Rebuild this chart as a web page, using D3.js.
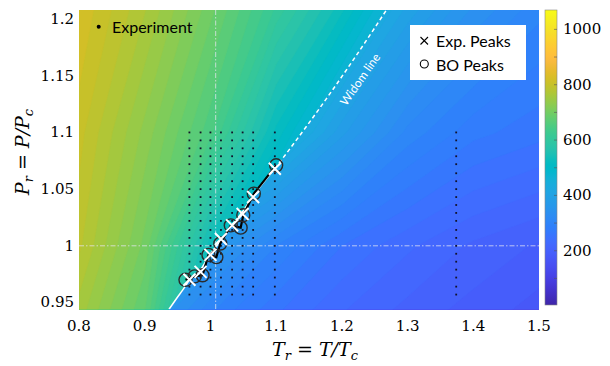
<!DOCTYPE html>
<html>
<head>
<meta charset="utf-8">
<script src="https://cdn.jsdelivr.net/npm/d3@7"></script>
<style>
  body { margin: 0; background: #fff; }
  svg { display: block; }
</style>
</head>
<body>
<div id="chart"></div>
<script>
// axis ticks
const xTicks = [0.8, 0.9, 1, 1.1, 1.2, 1.3, 1.4, 1.5];
const yTicks = [0.95, 1, 1.05, 1.1, 1.15, 1.2];
const cbTicks = [200, 400, 600, 800, 1000];

// background field (rows = Pr, cols = Tr)
const fieldP = [0.93, 1.0, 1.1, 1.22];
const liquidT = [0.78, 0.9, 1.0, 1.1, 1.2, 1.3];
const liquidVals = [
  [770, 670, 430, 380, 350, 330],
  [800, 700, 530, 430, 380, 350],
  [815, 730, 650, 520, 420, 380],
  [835, 770, 700, 620, 540, 440]
];
const vapourT = [0.9, 1.0, 1.1, 1.2, 1.3, 1.4, 1.52];
const vapourVals = [
  [360, 290, 250, 220, 200, 185, 165],
  [430, 370, 300, 255, 228, 207, 190],
  [560, 520, 470, 380, 310, 275, 258],
  [650, 620, 580, 500, 410, 350, 305]
];

// Widom line (solid part, then dashed part)
const widomSolidT = [0.937, 0.949, 0.959, 0.968, 0.985, 1.0, 1.016, 1.032, 1.049, 1.065, 1.098];
const widomSolidP = [0.944, 0.954, 0.962, 0.970, 0.979, 0.993, 1.005, 1.018, 1.030, 1.044, 1.068];
const widomDashT = [1.098, 1.147, 1.208, 1.269];
const widomDashP = [1.068, 1.106, 1.156, 1.209];

// experiment grid
const expT = [0.968, 0.985, 1.0, 1.016, 1.033, 1.049, 1.065, 1.098, 1.374];
const expP = [0.957, 0.964, 0.972, 0.979, 0.986, 0.993, 1.000, 1.007, 1.014, 1.022, 1.029,
              1.036, 1.043, 1.050, 1.057, 1.064, 1.072, 1.079, 1.086, 1.093, 1.100];

// peaks
const expPeakT = [0.968, 0.985, 1.0, 1.016, 1.033, 1.049, 1.065, 1.098];
const expPeakP = [0.970, 0.977, 0.992, 1.006, 1.018, 1.028, 1.043, 1.068];
const boPeakT = [0.962, 0.976, 0.988, 0.997, 1.009, 1.015, 1.031, 1.046, 1.050, 1.066, 1.100];
const boPeakP = [0.970, 0.973, 0.974, 0.992, 0.990, 1.002, 1.018, 1.016, 1.027, 1.046, 1.071];

// MATLAB parula
const parula = [
  [0.2422,0.1504,0.6603],[0.2504,0.1650,0.7076],[0.2578,0.1818,0.7511],[0.2647,0.1978,0.7952],
  [0.2706,0.2147,0.8364],[0.2751,0.2342,0.8710],[0.2783,0.2559,0.8991],[0.2803,0.2782,0.9221],
  [0.2813,0.3006,0.9414],[0.2810,0.3228,0.9579],[0.2795,0.3447,0.9717],[0.2760,0.3667,0.9829],
  [0.2699,0.3892,0.9906],[0.2602,0.4123,0.9952],[0.2440,0.4358,0.9988],[0.2206,0.4603,0.9973],
  [0.1963,0.4847,0.9892],[0.1834,0.5074,0.9798],[0.1786,0.5289,0.9682],[0.1764,0.5499,0.9520],
  [0.1687,0.5703,0.9359],[0.1540,0.5902,0.9218],[0.1460,0.6091,0.9079],[0.1380,0.6276,0.8973],
  [0.1248,0.6459,0.8883],[0.1113,0.6635,0.8763],[0.0952,0.6798,0.8598],[0.0689,0.6948,0.8394],
  [0.0297,0.7082,0.8163],[0.0036,0.7203,0.7917],[0.0067,0.7312,0.7660],[0.0433,0.7411,0.7394],
  [0.0964,0.7500,0.7120],[0.1408,0.7584,0.6842],[0.1717,0.7670,0.6554],[0.1938,0.7758,0.6251],
  [0.2161,0.7843,0.5923],[0.2470,0.7918,0.5567],[0.2906,0.7973,0.5188],[0.3406,0.8008,0.4789],
  [0.3909,0.8029,0.4354],[0.4456,0.8024,0.3909],[0.5044,0.7993,0.3480],[0.5616,0.7942,0.3045],
  [0.6174,0.7876,0.2612],[0.6720,0.7793,0.2227],[0.7242,0.7698,0.1910],[0.7738,0.7598,0.1646],
  [0.8203,0.7498,0.1535],[0.8634,0.7406,0.1596],[0.9035,0.7330,0.1774],[0.9393,0.7288,0.2100],
  [0.9728,0.7298,0.2394],[0.9956,0.7434,0.2371],[0.9970,0.7659,0.2199],[0.9952,0.7893,0.2028],
  [0.9892,0.8136,0.1885],[0.9786,0.8386,0.1766],[0.9676,0.8639,0.1643],[0.9610,0.8890,0.1537],
  [0.9597,0.9135,0.1423],[0.9628,0.9373,0.1265],[0.9691,0.9606,0.1064],[0.9769,0.9839,0.0805]
].map(c => d3.rgb(c[0] * 255, c[1] * 255, c[2] * 255).formatHex());

const width = 610, height = 366;
const plot = { left: 79, right: 539, top: 10, bottom: 309.3 };

const x = d3.scaleLinear().domain([0.8, 1.5]).range([plot.left, plot.right]);
const y = d3.scaleLinear().domain([0.944, 1.208]).range([plot.bottom, plot.top]);
const color = d3.scaleSequential(d3.piecewise(d3.interpolateRgb, parula)).domain([4, 1070]);
const cbY = d3.scaleLinear().domain([4, 1070]).range([305, 10]);

const svg = d3.select("#chart").append("svg")
  .attr("width", width)
  .attr("height", height);

const defs = svg.append("defs");
defs.append("clipPath").attr("id", "plotClip")
  .append("rect")
  .attr("x", plot.left).attr("y", plot.top)
  .attr("width", plot.right - plot.left).attr("height", plot.bottom - plot.top);

// liquid side of the Widom line
const liquidPoly = widomSolidT.map((t, i) => [t, widomSolidP[i]])
  .concat(widomDashT.slice(1).map((t, i) => [t, widomDashP[i + 1]]));
const clipPts = [[0.93, 0.93]].concat(liquidPoly, [[1.28, 1.22], [0.7, 1.25], [0.7, 0.9], [0.93, 0.9]]);
defs.append("clipPath").attr("id", "liquidClip")
  .append("path")
  .attr("d", d3.line().x(d => x(d[0])).y(d => y(d[1]))(clipPts) + "Z");

const levels = d3.range(0, 1095, 15);

function drawField(g, tVals, vals) {
  const ti = d3.scaleLinear().domain(d3.range(tVals.length)).range(tVals);
  const pi = d3.scaleLinear().domain(d3.range(fieldP.length)).range(fieldP);
  const path = d3.geoPath(d3.geoTransform({
    point(cx, cy) { this.stream.point(x(ti(cx - 0.5)), y(pi(cy - 0.5))); }
  }));
  const bands = d3.contours()
    .size([tVals.length, fieldP.length])
    .thresholds(levels)(vals.flat());
  g.selectAll("path")
    .data(bands)
    .join("path")
    .attr("d", path)
    .attr("fill", d => color(d.value + 7.5))
    .attr("stroke", d => color(d.value + 7.5))
    .attr("stroke-width", 0.4);
}

const field = svg.append("g").attr("clip-path", "url(#plotClip)");
drawField(field.append("g"), vapourT, vapourVals);
drawField(field.append("g").attr("clip-path", "url(#liquidClip)"), liquidT, liquidVals);

// critical point guides
field.append("line")
  .attr("x1", x(1.008)).attr("x2", x(1.008))
  .attr("y1", plot.top).attr("y2", plot.bottom)
  .attr("stroke", "#e6e6f2").attr("stroke-opacity", 0.75).attr("stroke-width", 1)
  .attr("stroke-dasharray", "5,2,1.5,2");
field.append("line")
  .attr("x1", plot.left).attr("x2", plot.right)
  .attr("y1", y(1.0)).attr("y2", y(1.0))
  .attr("stroke", "#e6e6f2").attr("stroke-opacity", 0.75).attr("stroke-width", 1)
  .attr("stroke-dasharray", "5,2,1.5,2");

// experiment points
field.append("g").selectAll("rect")
  .data(d3.cross(expT, expP))
  .join("rect")
  .attr("x", d => x(d[0]) - 0.9)
  .attr("y", d => y(d[1]) - 0.9)
  .attr("width", 1.8).attr("height", 1.8)
  .attr("fill", "#12122a");

// Widom line
const wLine = d3.line().curve(d3.curveMonotoneX).x(d => x(d[0])).y(d => y(d[1]));
field.append("path")
  .attr("d", wLine(widomSolidT.map((t, i) => [t, widomSolidP[i]])))
  .attr("fill", "none").attr("stroke", "#fff").attr("stroke-width", 1.5);
field.append("path")
  .attr("d", wLine(widomDashT.map((t, i) => [t, widomDashP[i]])))
  .attr("fill", "none").attr("stroke", "#fff").attr("stroke-width", 1.5)
  .attr("stroke-dasharray", "4,3");

// BO peaks: connecting line and circles
const bo = boPeakT.map((t, i) => [t, boPeakP[i]]);
field.append("path")
  .attr("d", d3.line().x(d => x(d[0])).y(d => y(d[1]))(bo))
  .attr("fill", "none").attr("stroke", "#000").attr("stroke-width", 2.2);
field.append("g").selectAll("circle")
  .data(bo)
  .join("circle")
  .attr("cx", d => x(d[0])).attr("cy", d => y(d[1]))
  .attr("r", 6.5)
  .attr("fill", "none").attr("stroke", "#2a2a2a").attr("stroke-width", 1.4);

// experimental peaks
const cross = 6;
field.append("g").selectAll("path")
  .data(expPeakT.map((t, i) => [t, expPeakP[i]]))
  .join("path")
  .attr("d", d => {
    const cx = x(d[0]), cy = y(d[1]);
    return `M${cx - cross},${cy - cross}L${cx + cross},${cy + cross}M${cx - cross},${cy + cross}L${cx + cross},${cy - cross}`;
  })
  .attr("stroke", "#fff").attr("stroke-width", 2);

// annotation along the dashed line
svg.append("text")
  .attr("transform", "translate(361,80) rotate(-55)")
  .attr("text-anchor", "middle").attr("dominant-baseline", "middle")
  .attr("font-family", "Lato").attr("font-size", 12)
  .attr("fill", "#fff")
  .text("Widom line");

// "Experiment" marker
svg.append("circle").attr("cx", 98.7).attr("cy", 26.7).attr("r", 2).attr("fill", "#000");
svg.append("text")
  .attr("x", 112).attr("y", 26.7)
  .attr("dominant-baseline", "central")
  .attr("font-family", "Lato").attr("font-size", 16)
  .text("Experiment");

// legend
const legend = svg.append("g");
legend.append("rect")
  .attr("x", 410).attr("y", 25).attr("width", 116).attr("height", 55)
  .attr("fill", "#fff");
legend.append("path")
  .attr("d", "M420.5,37L428,44.5M420.5,44.5L428,37")
  .attr("stroke", "#000").attr("stroke-width", 1.1);
legend.append("circle")
  .attr("cx", 424.3).attr("cy", 64).attr("r", 4)
  .attr("fill", "none").attr("stroke", "#000").attr("stroke-width", 1.1);
legend.selectAll("text.lab")
  .data(["Exp. Peaks", "BO Peaks"])
  .join("text")
  .attr("x", 436).attr("y", (d, i) => 40.7 + i * 23.3)
  .attr("dominant-baseline", "central")
  .attr("font-family", "Lato").attr("font-size", 16)
  .text(d => d);

// tick labels
svg.append("g").selectAll("text")
  .data(xTicks)
  .join("text")
  .attr("x", d => x(d)).attr("y", 326)
  .attr("text-anchor", "middle").attr("dominant-baseline", "central")
  .attr("font-family", "DejaVu Serif").attr("font-size", 15)
  .text(d => d);
svg.append("g").selectAll("text")
  .data(yTicks)
  .join("text")
  .attr("x", 74).attr("y", d => y(d))
  .attr("text-anchor", "end").attr("dominant-baseline", "central")
  .attr("font-family", "DejaVu Serif").attr("font-size", 15)
  .text(d => d);

// axis titles
const xt = svg.append("text")
  .attr("x", 315).attr("y", 356)
  .attr("text-anchor", "middle")
  .attr("font-family", "DejaVu Serif").attr("font-size", 19).attr("font-style", "italic");
xt.append("tspan").text("T");
xt.append("tspan").attr("dy", 4).attr("font-size", 13).text("r");
xt.append("tspan").attr("dy", -4).attr("font-style", "normal").text(" = ");
xt.append("tspan").text("T/T");
xt.append("tspan").attr("dy", 4).attr("font-size", 13).text("c");

const yt = svg.append("text")
  .attr("transform", "translate(29,152) rotate(-90)")
  .attr("text-anchor", "middle")
  .attr("font-family", "DejaVu Serif").attr("font-size", 19).attr("font-style", "italic");
yt.append("tspan").text("P");
yt.append("tspan").attr("dy", 4).attr("font-size", 13).text("r");
yt.append("tspan").attr("dy", -4).attr("font-style", "normal").text(" = ");
yt.append("tspan").text("P/P");
yt.append("tspan").attr("dy", 4).attr("font-size", 13).text("c");

// colour bar
const grad = defs.append("linearGradient").attr("id", "cbGrad")
  .attr("x1", 0).attr("y1", 1).attr("x2", 0).attr("y2", 0);
grad.selectAll("stop")
  .data(parula)
  .join("stop")
  .attr("offset", (d, i) => i / (parula.length - 1))
  .attr("stop-color", d => d);
svg.append("rect")
  .attr("x", 545).attr("y", cbY(1070))
  .attr("width", 12).attr("height", cbY(4) - cbY(1070))
  .attr("fill", "url(#cbGrad)")
  .attr("stroke", "#888").attr("stroke-width", 0.6);
svg.append("g").selectAll("line")
  .data(d3.range(100, 1001, 100))
  .join("line")
  .attr("x1", 554).attr("x2", 557)
  .attr("y1", d => cbY(d)).attr("y2", d => cbY(d))
  .attr("stroke", "#555").attr("stroke-width", 0.6);
svg.append("g").selectAll("text")
  .data(cbTicks)
  .join("text")
  .attr("x", 563).attr("y", d => cbY(d))
  .attr("dominant-baseline", "central")
  .attr("font-family", "DejaVu Serif").attr("font-size", 15)
  .text(d => d);
</script>
</body>
</html>
